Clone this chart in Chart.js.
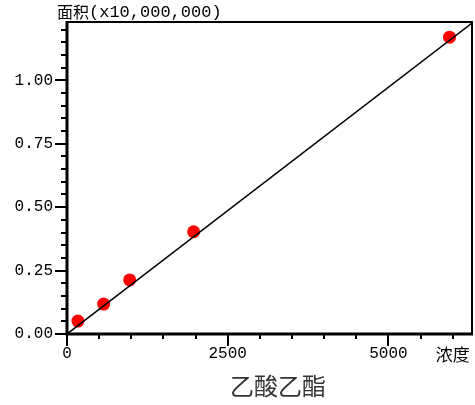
<!DOCTYPE html>
<html>
<head>
<meta charset="utf-8">
<script src="https://cdn.jsdelivr.net/npm/chart.js@4"></script>
<style>
  html, body { margin: 0; padding: 0; background: #fff; }
  #wrap { width: 475px; height: 405px; }
</style>
</head>
<body>
<div id="wrap"><canvas id="calChart"></canvas></div>
<script>
// calibration points (concentration vs area, x10,000,000)
const concentrations = [170, 570, 975, 1970, 5950];
const areas = [0.051, 0.118, 0.213, 0.403, 1.170];
// fitted line ends
const fitX = [0, 6300];
const fitY = [0, 1.226];
// tick labels
const xMajorTicks = [0, 2500, 5000];
const xUnitTick = 6000;
const xUnitLabel = '浓度';
const yMajorTicks = [0, 0.25, 0.5, 0.75, 1.0];
const yTitleCjk = '面积';
const yTitleUnit = '(x10,000,000)';
const chartTitle = '乙酸乙酯';

const monoFont = '"Liberation Mono", "Noto Sans CJK SC", monospace';

const near = (v, list) => list.some(m => Math.abs(v - m) < 1e-6);

const framePlugin = {
  id: 'frame',
  afterDraw(chart) {
    const ctx = chart.ctx;
    const a = chart.chartArea;
    const xs = chart.scales.x, ys = chart.scales.y;
    ctx.save();
    ctx.strokeStyle = '#000';
    ctx.lineCap = 'butt';
    // thin top/right
    ctx.lineWidth = 2;
    ctx.beginPath();
    ctx.moveTo(a.left, a.top); ctx.lineTo(a.right, a.top); ctx.lineTo(a.right, a.bottom);
    ctx.stroke();
    // thick left/bottom
    ctx.lineWidth = 3;
    ctx.beginPath();
    ctx.moveTo(a.left, a.top - 1); ctx.lineTo(a.left, a.bottom); ctx.lineTo(a.right + 1, a.bottom);
    ctx.stroke();
    // tick marks
    ctx.lineWidth = 2;
    ys.ticks.forEach(t => {
      const py = Math.round(ys.getPixelForValue(t.value));
      const len = near(t.value, yMajorTicks) ? 12 : 6;
      ctx.beginPath(); ctx.moveTo(a.left - len, py); ctx.lineTo(a.left, py); ctx.stroke();
    });
    xs.ticks.forEach(t => {
      const px = Math.round(xs.getPixelForValue(t.value));
      const len = near(t.value, xMajorTicks) ? 12 : 5;
      ctx.beginPath(); ctx.moveTo(px, a.bottom); ctx.lineTo(px, a.bottom + len); ctx.stroke();
    });
    // texts
    ctx.fillStyle = '#000';
    ctx.textBaseline = 'middle';
    ctx.textAlign = 'left';
    ctx.font = '16px "Noto Sans CJK SC"';
    ctx.fillText(yTitleCjk, 57, 12);
    const w = ctx.measureText(yTitleCjk).width;
    ctx.font = '17px ' + monoFont;
    ctx.fillText(yTitleUnit, 57 + w, 12);
    ctx.fillStyle = '#333';
    ctx.textAlign = 'center';
    ctx.font = '24px "Noto Sans CJK SC"';
    ctx.fillText(chartTitle, 278, 386);
    ctx.restore();
  }
};

new Chart(document.getElementById('calChart'), {
  type: 'scatter',
  data: {
    datasets: [
      {
        type: 'line',
        data: fitX.map((x, i) => ({ x: x, y: fitY[i] })),
        borderColor: '#000',
        borderWidth: 1.5,
        pointRadius: 0,
        fill: false
      },
      {
        data: concentrations.map((x, i) => ({ x: x, y: areas[i] })),
        backgroundColor: '#ff0000',
        borderColor: '#ff0000',
        pointRadius: 6.5,
        pointBorderWidth: 0
      }
    ]
  },
  options: {
    responsive: true,
    maintainAspectRatio: false,
    animation: false,
    layout: { autoPadding: false, padding: { top: 22, right: 3, left: 0, bottom: 0 } },
    plugins: { legend: { display: false }, tooltip: { enabled: false } },
    scales: {
      x: {
        type: 'linear',
        min: 0,
        max: 6300,
        grid: { display: false },
        border: { display: false },
        afterFit(scale) {
          scale.height = 71;
          scale.paddingLeft = 0;
          scale.paddingRight = 0;
        },
        afterBuildTicks(scale) {
          scale.ticks = [];
          for (let v = 0; v <= xUnitTick; v += 500) scale.ticks.push({ value: v });
        },
        ticks: {
          autoSkip: false,
          maxRotation: 0,
          padding: 2,
          color: '#000',
          font: (c) => (c.tick && c.tick.value === xUnitTick)
            ? { family: '"Noto Sans CJK SC"', size: 17 }
            : { family: monoFont, size: 16 },
          callback: (v) => near(v, xMajorTicks) ? String(v) : (v === xUnitTick ? xUnitLabel : '')
        }
      },
      y: {
        type: 'linear',
        min: 0,
        max: 1.23,
        grid: { display: false },
        border: { display: false },
        afterFit(scale) {
          scale.width = 67;
          scale.paddingTop = 0;
          scale.paddingBottom = 0;
        },
        afterBuildTicks(scale) {
          scale.ticks = [];
          for (let i = 0; i <= 24; i++) scale.ticks.push({ value: +(i * 0.05).toFixed(2) });
        },
        ticks: {
          autoSkip: false,
          padding: 6,
          color: '#000',
          font: { family: monoFont, size: 16 },
          callback: (v) => near(v, yMajorTicks) ? v.toFixed(2) : ''
        }
      }
    }
  },
  plugins: [framePlugin]
});
</script>
</body>
</html>
